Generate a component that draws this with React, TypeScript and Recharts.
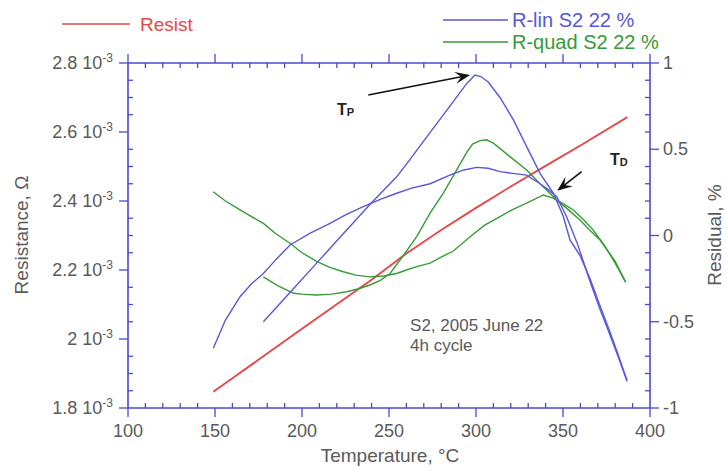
import React from 'react';
import { ComposedChart, Line, XAxis, YAxis, ReferenceLine, ReferenceDot, Customized } from 'recharts';

// ---------- data ----------
const xTicks = [100, 110, 120, 130, 140, 150, 160, 170, 180, 190, 200, 210, 220, 230, 240, 250, 260, 270, 280, 290, 300, 310, 320, 330, 340, 350, 360, 370, 380, 390, 400];
const leftTicks = [0.0018, 0.00185, 0.0019, 0.00195, 0.002, 0.00205, 0.0021, 0.00215, 0.0022, 0.00225, 0.0023, 0.00235, 0.0024, 0.00245, 0.0025, 0.00255, 0.0026, 0.00265, 0.0027, 0.00275, 0.0028];
const rightTicks = [-1, -0.9, -0.8, -0.7, -0.6, -0.5, -0.4, -0.3, -0.2, -0.1, 0, 0.1, 0.2, 0.3, 0.4, 0.5, 0.6, 0.7, 0.8, 0.9, 1];

const resistT = [149, 160, 180, 200, 220, 240, 260, 280, 300, 320, 340, 360, 387];
const resistR = [0.001847, 0.001886, 0.001958, 0.00203, 0.002101, 0.002172, 0.002248, 0.002316, 0.00238, 0.002442, 0.002502, 0.002561, 0.002643];

const linHeatT = [149, 156, 164.4, 171, 177.8, 185, 193.1, 205, 216.1, 225, 235.2, 245, 254.4, 263, 273.6, 285, 293, 300.4, 307, 313.8, 321, 329.1, 336.8, 341, 346.4, 352, 358, 365.5, 371, 377, 382, 386.8];
const linHeatV = [-0.654, -0.49, -0.355, -0.28, -0.22, -0.14, -0.055, 0.015, 0.07, 0.12, 0.167, 0.21, 0.245, 0.275, 0.3, 0.35, 0.38, 0.395, 0.39, 0.37, 0.36, 0.35, 0.3, 0.27, 0.225, 0.11, -0.04, -0.265, -0.42, -0.577, -0.71, -0.845];

const linCoolT = [386.8, 382, 377, 371, 365.5, 360, 354, 350.2, 344.5, 336.8, 329.1, 321.5, 313.8, 307, 303, 299.4, 294.6, 285, 271.6, 262, 254.4, 239, 223.7, 208.4, 193.1, 177.8];
const linCoolV = [-0.84, -0.7, -0.56, -0.4, -0.25, -0.12, -0.026, 0.11, 0.245, 0.36, 0.515, 0.67, 0.8, 0.89, 0.92, 0.93, 0.88, 0.75, 0.57, 0.44, 0.34, 0.18, 0.01, -0.16, -0.33, -0.5];

const quadHeatT = [149, 156, 164.4, 171, 177.8, 185, 193.1, 200, 208.4, 216, 223.7, 231, 239, 247, 254.4, 260, 265.9, 273.6, 280, 287, 296.6, 305, 313.8, 321, 329.1, 338.7, 344.3, 350, 356, 362, 367.5, 374, 380, 386];
const quadHeatV = [0.254, 0.2, 0.148, 0.11, 0.07, 0.01, -0.045, -0.1, -0.15, -0.185, -0.21, -0.23, -0.24, -0.235, -0.22, -0.2, -0.18, -0.16, -0.125, -0.09, -0.007, 0.06, 0.11, 0.15, 0.187, 0.235, 0.217, 0.185, 0.148, 0.09, 0.03, -0.06, -0.16, -0.27];

const quadCoolT = [386, 380, 371.3, 365, 359.8, 353, 346.4, 341, 336.8, 329.1, 319.5, 310, 306, 302.3, 298, 294.6, 288, 281.2, 273.6, 265.9, 258, 250.6, 245, 239, 232, 225.7, 217, 208.4, 200, 195.2, 186, 177.8];
const quadCoolV = [-0.27, -0.15, -0.026, 0.035, 0.09, 0.15, 0.206, 0.26, 0.3, 0.38, 0.457, 0.535, 0.555, 0.55, 0.53, 0.48, 0.364, 0.245, 0.13, -0.007, -0.12, -0.22, -0.26, -0.287, -0.31, -0.326, -0.34, -0.345, -0.34, -0.335, -0.29, -0.24];

const legendLabels = ['Resist', 'R-lin S2 22 %', 'R-quad S2 22 %'];
const noteLines = ['S2, 2005 June 22', '4h cycle'];

// ---------- build tables ----------
const resistData = resistT.map((t, i) => ({ t, r: resistR[i] }));
const linHeat = linHeatT.map((t, i) => ({ t, v: linHeatV[i] }));
const linCool = linCoolT.map((t, i) => ({ t, v: linCoolV[i] }));
const quadHeat = quadHeatT.map((t, i) => ({ t, v: quadHeatV[i] }));
const quadCool = quadCoolT.map((t, i) => ({ t, v: quadCoolV[i] }));

// ---------- style ----------
const AXIS = '#4a4ad0';
const TEXT = '#5a5a5a';
const RED = '#e64848';
const BLUE = '#5858d8';
const GREEN = '#379b37';
const FONT = '"Liberation Sans", Arial, sans-serif';
const TICK_FS = 18;

const isMajor = (v: number, step: number) => Math.abs(v / step - Math.round(v / step)) < 1e-6;

const BottomTick = (p: any) => {
  const { x, y, payload } = p;
  const v = payload.value;
  const m = isMajor(v, 50);
  return (
    <g>
      <line x1={x} x2={x} y1={y} y2={m ? y + 9 : y - 5} stroke={AXIS} strokeWidth={1.3} />
      {m && (
        <text x={x} y={y + 29} textAnchor="middle" fill={TEXT} fontSize={TICK_FS} fontFamily={FONT}>
          {v}
        </text>
      )}
    </g>
  );
};

const TopTick = (p: any) => {
  const { x, y, payload } = p;
  const m = isMajor(payload.value, 50);
  return <line x1={x} x2={x} y1={y} y2={m ? y - 9 : y + 5} stroke={AXIS} strokeWidth={1.3} />;
};

const LeftTick = (p: any) => {
  const { x, y, payload } = p;
  const v = payload.value;
  const m = isMajor(v, 0.0002);
  const lab = String(Math.round(v * 1e4) / 10);
  return (
    <g>
      <line x1={x} x2={m ? x - 9 : x + 5} y1={y} y2={y} stroke={AXIS} strokeWidth={1.3} />
      {m && (
        <text x={x - 15} y={y + 6} textAnchor="end" fill={TEXT} fontSize={TICK_FS} fontFamily={FONT}>
          {lab} 10
          <tspan dy={-7} fontSize={12}>-3</tspan>
        </text>
      )}
    </g>
  );
};

const RightTick = (p: any) => {
  const { x, y, payload } = p;
  const v = payload.value;
  const m = isMajor(v, 0.5);
  return (
    <g>
      <line x1={x} x2={m ? x + 9 : x - 5} y1={y} y2={y} stroke={AXIS} strokeWidth={1.3} />
      {m && (
        <text x={x + 13} y={y + 6} textAnchor="start" fill={TEXT} fontSize={TICK_FS} fontFamily={FONT}>
          {String(Math.round(v * 10) / 10)}
        </text>
      )}
    </g>
  );
};

const Arrow = (p: any) => {
  const { x1, y1, x2, y2 } = p;
  const a = Math.atan2(y2 - y1, x2 - x1);
  const L = 15;
  const Wd = 6;
  const c = Math.cos(a);
  const s = Math.sin(a);
  const bx = x2 - L * c;
  const by = y2 - L * s;
  const nx = x2 - L * 0.6 * c;
  const ny = y2 - L * 0.6 * s;
  return (
    <g>
      <line x1={x1} y1={y1} x2={nx} y2={ny} stroke="#111" strokeWidth={1.6} />
      <polygon
        points={`${x2},${y2} ${bx - s * Wd},${by + c * Wd} ${nx},${ny} ${bx + s * Wd},${by - c * Wd}`}
        fill="#111"
      />
    </g>
  );
};

const LabelShape = (text: string, sub: string) => (p: any) => (
  <text x={p.cx} y={p.cy} fill="#222" fontSize={16} fontWeight="bold" fontFamily={FONT}>
    {text}
    <tspan fontSize={11} dy={1}>{sub}</tspan>
  </text>
);

const NoteShape = (text: string) => (p: any) => (
  <text x={p.cx} y={p.cy} fill={TEXT} fontSize={17} fontFamily={FONT}>
    {text}
  </text>
);

const Overlay = () => (
  <g fontFamily={FONT}>
    <line x1={62} x2={130} y1={24} y2={24} stroke={RED} strokeWidth={1.6} />
    <text x={140} y={31} fill={RED} fontSize={19}>{legendLabels[0]}</text>
    <line x1={443} x2={508} y1={20} y2={20} stroke={BLUE} strokeWidth={1.6} />
    <text x={512} y={27} fill={BLUE} fontSize={20}>{legendLabels[1]}</text>
    <line x1={443} x2={508} y1={42} y2={42} stroke={GREEN} strokeWidth={1.6} />
    <text x={512} y={49} fill={GREEN} fontSize={20}>{legendLabels[2]}</text>
    <text x={390} y={462} textAnchor="middle" fill={TEXT} fontSize={19}>Temperature, °C</text>
    <text transform="translate(28,235) rotate(-90)" textAnchor="middle" fill={TEXT} fontSize={19}>Resistance, Ω</text>
    <text transform="translate(721,235) rotate(-90)" textAnchor="middle" fill={TEXT} fontSize={19}>Residual, %</text>
  </g>
);

export default function App() {
  return (
    <div style={{ position: 'absolute', left: 0, top: 0, background: '#fff' }}>
      <ComposedChart width={727} height={471} margin={{ top: 43, right: 17, bottom: 33, left: 68 }}>
        <XAxis
          xAxisId="b"
          dataKey="t"
          type="number"
          domain={[100, 400]}
          ticks={xTicks}
          interval={0}
          allowDataOverflow
          height={30}
          tickSize={0}
          tickMargin={0}
          tickLine={false}
          axisLine={{ stroke: AXIS, strokeWidth: 1.6 }}
          tick={BottomTick}
        />
        <XAxis
          xAxisId="t"
          orientation="top"
          dataKey="t"
          type="number"
          domain={[100, 400]}
          ticks={xTicks}
          interval={0}
          allowDataOverflow
          height={20}
          tickSize={0}
          tickMargin={0}
          tickLine={false}
          axisLine={{ stroke: AXIS, strokeWidth: 1.6 }}
          tick={TopTick}
        />
        <YAxis
          yAxisId="l"
          type="number"
          domain={[0.0018, 0.0028]}
          ticks={leftTicks}
          interval={0}
          allowDataOverflow
          width={60}
          tickSize={0}
          tickMargin={0}
          tickLine={false}
          axisLine={{ stroke: AXIS, strokeWidth: 1.6 }}
          tick={LeftTick}
        />
        <YAxis
          yAxisId="r"
          orientation="right"
          type="number"
          domain={[-1, 1]}
          ticks={rightTicks}
          interval={0}
          allowDataOverflow
          width={60}
          tickSize={0}
          tickMargin={0}
          tickLine={false}
          axisLine={{ stroke: AXIS, strokeWidth: 1.6 }}
          tick={RightTick}
        />
        <Line data={resistData} dataKey="r" xAxisId="b" yAxisId="l" type="linear" stroke={RED} strokeWidth={1.9} dot={false} isAnimationActive={false} />
        <Line data={quadHeat} dataKey="v" xAxisId="b" yAxisId="r" type="linear" stroke={GREEN} strokeWidth={1.4} dot={false} isAnimationActive={false} />
        <Line data={quadCool} dataKey="v" xAxisId="b" yAxisId="r" type="linear" stroke={GREEN} strokeWidth={1.4} dot={false} isAnimationActive={false} />
        <Line data={linHeat} dataKey="v" xAxisId="b" yAxisId="r" type="linear" stroke={BLUE} strokeWidth={1.4} dot={false} isAnimationActive={false} />
        <Line data={linCool} dataKey="v" xAxisId="b" yAxisId="r" type="linear" stroke={BLUE} strokeWidth={1.4} dot={false} isAnimationActive={false} />
        <ReferenceLine xAxisId="b" yAxisId="r" segment={[{ x: 238.1, y: 0.814 }, { x: 296.6, y: 0.93 }]} shape={Arrow} />
        <ReferenceLine xAxisId="b" yAxisId="r" segment={[{ x: 360.7, y: 0.37 }, { x: 346.7, y: 0.26 }]} shape={Arrow} />
        <ReferenceDot xAxisId="b" yAxisId="r" x={220.1} y={0.699} r={0} shape={LabelShape('T', 'P')} />
        <ReferenceDot xAxisId="b" yAxisId="r" x={377} y={0.409} r={0} shape={LabelShape('T', 'D')} />
        <ReferenceDot xAxisId="b" yAxisId="r" x={262.1} y={-0.554} r={0} shape={NoteShape(noteLines[0])} />
        <ReferenceDot xAxisId="b" yAxisId="r" x={262.1} y={-0.67} r={0} shape={NoteShape(noteLines[1])} />
        <Customized component={Overlay} />
      </ComposedChart>
    </div>
  );
}
